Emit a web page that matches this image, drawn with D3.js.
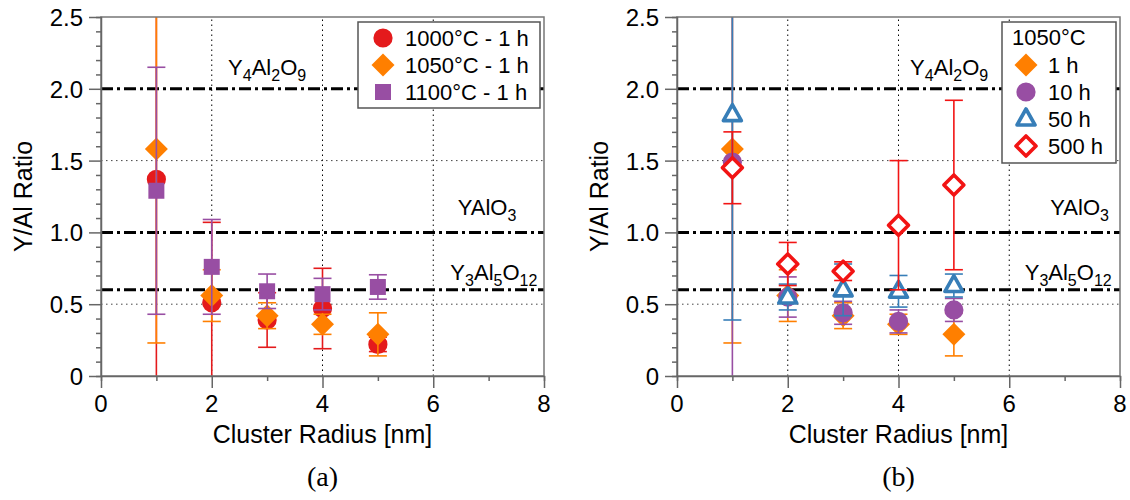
<!DOCTYPE html>
<html>
<head>
<meta charset="utf-8">
<script src="https://cdn.jsdelivr.net/npm/d3@7"></script>
<style>
  body { margin: 0; background: #fff; }
  text { font-family: "Liberation Sans", Arial, sans-serif; fill: #000; }
</style>
</head>
<body>
<svg id="chart" width="1130" height="500"></svg>
<script>
// cluster radius positions
var radius = [1, 2, 3, 4, 5];

// panel (a)
var t1000 = [1.37, 0.51, 0.39, 0.47, 0.22];
var t1000Err = [1.5, 0.56, 0.19, 0.28, 0.05];
var t1050 = [1.58, 0.56, 0.42, 0.36, 0.29];
var t1050Err = [1.35, 0.18, 0.09, 0.07, 0.15];
var t1100 = [1.29, 0.76, 0.59, 0.57, 0.62];
var t1100Err = [0.86, 0.33, 0.12, 0.11, 0.085];

// panel (b), all at 1050°C
var h1 = [1.58, 0.56, 0.42, 0.36, 0.29];
var h1Err = [1.35, 0.18, 0.09, 0.07, 0.15];
var h10 = [1.49, 0.55, 0.44, 0.38, 0.46];
var h10Err = [1.5, 0.14, 0.08, 0.08, 0.08];
var h50 = [1.82, 0.55, 0.60, 0.59, 0.63];
var h50Err = [1.43, 0.09, 0.18, 0.11, 0.08];
var h500 = [1.45, 0.78, 0.73, 1.05, 1.33];
var h500Err = [0.25, 0.15, 0.065, 0.45, 0.59];

var xTicks = [0, 2, 4, 6, 8];
var yTicks = [0, 0.5, 1.0, 1.5, 2.0, 2.5];
var yTickLabels = ["0", "0.5", "1.0", "1.5", "2.0", "2.5"];
var phaseRatios = [2.0, 1.0, 0.6];

var red = "#e41a1c", orange = "#ff7f00", purple = "#984ea3", blue = "#377eb8", red2 = "#f21414";

var svg = d3.select("#chart");

function markerPath(shape) {
    if (shape == "circle") return d3.symbol(d3.symbolCircle, 290)();
    if (shape == "square") return "M-8,-8L8,-8L8,8L-8,8Z";
    if (shape == "diamond") return "M0,-11.5L11.5,0L0,11.5L-11.5,0Z";
    if (shape == "odiamond") return "M0,-10L10,0L0,10L-10,0Z";
    if (shape == "triangle") return "M0,-10L9,6L-9,6Z";
}

function addMarker(sel, s) {
    var open = (s.shape == "triangle" || s.shape == "odiamond");
    sel.append("path")
        .attr("d", markerPath(s.shape))
        .attr("fill", open ? "#fff" : s.color)
        .attr("stroke", open ? s.color : "none")
        .attr("stroke-width", open ? 3.6 : 0)
        .attr("stroke-linejoin", open ? "round" : "miter");
}

function subText(sel, parts) {
    parts.forEach(function(p) {
        var t = sel.append("tspan").text(p[0]);
        if (p[1] == "sub") t.attr("font-size", 16).attr("dy", 6);
        else if (p[1] == "up") t.attr("dy", -6);
    });
}

function drawPanel(opts) {
    var x = d3.scaleLinear().domain([0, 8]).range([opts.left, opts.left + 443]);
    var y = d3.scaleLinear().domain([0, 2.5]).range([376, 17]);
    var g = svg.append("g");

    g.append("clipPath").attr("id", opts.id + "clip")
        .append("rect").attr("x", x(0)).attr("y", y(2.5))
        .attr("width", x(8) - x(0)).attr("height", y(0) - y(2.5));

    // grid
    g.selectAll(".vgrid").data([2, 4, 6]).enter().append("line")
        .attr("x1", function(d) { return x(d); }).attr("x2", function(d) { return x(d); })
        .attr("y1", y(0)).attr("y2", y(2.5))
        .attr("stroke", "#000").attr("stroke-width", 1).attr("stroke-dasharray", "1.5,3.5");
    g.selectAll(".hgrid").data([0.5, 1.5]).enter().append("line")
        .attr("x1", x(0)).attr("x2", x(8))
        .attr("y1", function(d) { return y(d); }).attr("y2", function(d) { return y(d); })
        .attr("stroke", "#444").attr("stroke-width", 1).attr("stroke-dasharray", "1.5,3.5");

    // phase lines
    g.selectAll(".phase").data(phaseRatios).enter().append("line")
        .attr("x1", x(0)).attr("x2", x(8))
        .attr("y1", function(d) { return y(d); }).attr("y2", function(d) { return y(d); })
        .attr("stroke", "#000").attr("stroke-width", 3).attr("stroke-dasharray", "12,4,3,4");

    // phase labels
    var l1 = g.append("text").attr("x", x(opts.lab[0])).attr("y", y(2.0) - 14)
        .attr("font-size", 22).attr("text-anchor", opts.lab0anchor);
    subText(l1, [["Y"], ["4", "sub"], ["Al", "up"], ["2", "sub"], ["O", "up"], ["9", "sub"]]);
    var l2 = g.append("text").attr("x", x(opts.lab[1])).attr("y", y(1.0) - 17)
        .attr("font-size", 22).attr("text-anchor", "end");
    subText(l2, [["YAlO"], ["3", "sub"]]);
    var l3 = g.append("text").attr("x", x(opts.lab[2])).attr("y", y(0.6) - 10)
        .attr("font-size", 22).attr("text-anchor", "end");
    subText(l3, [["Y"], ["3", "sub"], ["Al", "up"], ["5", "sub"], ["O", "up"], ["12", "sub"]]);

    // series
    opts.series.forEach(function(s) {
        var pts = radius.map(function(r, i) { return {x: r, v: s.values[i], e: s.err[i]}; });
        var eb = g.append("g").attr("clip-path", "url(#" + opts.id + "clip)");
        pts.forEach(function(p) {
            var cx = x(p.x);
            eb.append("line").attr("x1", cx).attr("x2", cx)
                .attr("y1", y(p.v - p.e)).attr("y2", y(p.v + p.e))
                .attr("stroke", s.color).attr("stroke-width", 1.6);
            [p.v - p.e, p.v + p.e].forEach(function(c) {
                eb.append("line").attr("x1", cx - 9).attr("x2", cx + 9)
                    .attr("y1", y(c)).attr("y2", y(c))
                    .attr("stroke", s.color).attr("stroke-width", 1.6);
            });
        });
        pts.forEach(function(p) {
            var m = g.append("g").attr("transform", "translate(" + x(p.x) + "," + y(p.v) + ")");
            addMarker(m, s);
        });
    });

    // frame
    g.append("rect").attr("x", x(0)).attr("y", y(2.5))
        .attr("width", x(8) - x(0)).attr("height", y(0) - y(2.5))
        .attr("fill", "none").attr("stroke", "#777").attr("stroke-width", 1.5);

    // axes
    var xAxis = g.append("g").attr("transform", "translate(0," + y(0) + ")");
    xAxis.call(d3.axisBottom(x).tickValues(d3.range(0, 9, 1)).tickSize(5).tickFormat(""));
    xAxis.selectAll(".tick line").filter(function(d) { return d % 2 == 0; }).attr("y2", 12);
    xAxis.selectAll(".tick text").remove();
    xAxis.selectAll(".lbl").data(xTicks).enter().append("text")
        .attr("x", function(d) { return x(d); }).attr("y", 36)
        .attr("text-anchor", "middle").attr("font-size", 24).text(function(d) { return d; });

    var yAxis = g.append("g").attr("transform", "translate(" + x(0) + ",0)");
    yAxis.call(d3.axisLeft(y).tickValues(d3.range(0, 26, 1).map(function(d) { return d / 10; })).tickSize(5).tickFormat(""));
    yAxis.selectAll(".tick line").filter(function(d, i) { return i % 5 == 0; }).attr("x2", -12);
    yAxis.selectAll(".tick text").remove();
    yAxis.selectAll(".lbl").data(yTicks).enter().append("text")
        .attr("x", -18).attr("y", function(d) { return y(d) + 9; })
        .attr("text-anchor", "end").attr("font-size", 24)
        .text(function(d, i) { return yTickLabels[i]; });
    g.selectAll(".domain, .tick line").attr("stroke", "#666").attr("stroke-width", 1.5);

    // titles
    g.append("text").attr("x", (x(0) + x(8)) / 2).attr("y", 443)
        .attr("text-anchor", "middle").attr("font-size", 25).text("Cluster Radius [nm]");
    g.append("text").attr("transform", "translate(" + (x(0) - 69) + "," + ((y(0) + y(2.5)) / 2) + ") rotate(-90)")
        .attr("text-anchor", "middle").attr("font-size", 25).text("Y/Al Ratio");
    g.append("text").attr("x", (x(0) + x(8)) / 2).attr("y", 486)
        .attr("text-anchor", "middle").attr("font-size", 28)
        .style("font-family", "'Liberation Serif', 'Times New Roman', serif").text(opts.caption);

    // legend
    var lg = g.append("g").attr("transform", "translate(" + opts.legend.x + "," + opts.legend.y + ")");
    lg.append("rect").attr("width", opts.legend.w).attr("height", opts.legend.h)
        .attr("fill", "#fff").attr("stroke", "#555").attr("stroke-width", 1.5);
    var top = 16;
    if (opts.legend.title) {
        lg.append("text").attr("x", 10).attr("y", 23).attr("font-size", 22).text(opts.legend.title);
        top = 43;
    }
    opts.series.forEach(function(s, i) {
        var row = lg.append("g").attr("transform", "translate(" + opts.legend.mx + "," + (top + i * opts.legend.step) + ")");
        addMarker(row, s);
        row.append("text").attr("x", opts.legend.tx).attr("y", 8).attr("font-size", 22).text(s.name);
    });
}

drawPanel({
    id: "a", left: 101, caption: "(a)",
    lab: [3.0, 7.5, 7.88], lab0anchor: "middle",
    series: [
        {name: "1000°C - 1 h", values: t1000, err: t1000Err, color: red, shape: "circle"},
        {name: "1050°C - 1 h", values: t1050, err: t1050Err, color: orange, shape: "diamond"},
        {name: "1100°C - 1 h", values: t1100, err: t1100Err, color: purple, shape: "square"}
    ],
    legend: {x: 358, y: 22, w: 182, h: 86, mx: 25, tx: 22, step: 27}
});

drawPanel({
    id: "b", left: 677, caption: "(b)",
    lab: [5.62, 7.8, 7.85], lab0anchor: "end",
    series: [
        {name: "1 h", values: h1, err: h1Err, color: orange, shape: "diamond"},
        {name: "10 h", values: h10, err: h10Err, color: purple, shape: "circle"},
        {name: "50 h", values: h50, err: h50Err, color: blue, shape: "triangle"},
        {name: "500 h", values: h500, err: h500Err, color: red2, shape: "odiamond"}
    ],
    legend: {x: 1002, y: 22, w: 114, h: 141, title: "1050°C", mx: 24, tx: 22, step: 27}
});
</script>
</body>
</html>
